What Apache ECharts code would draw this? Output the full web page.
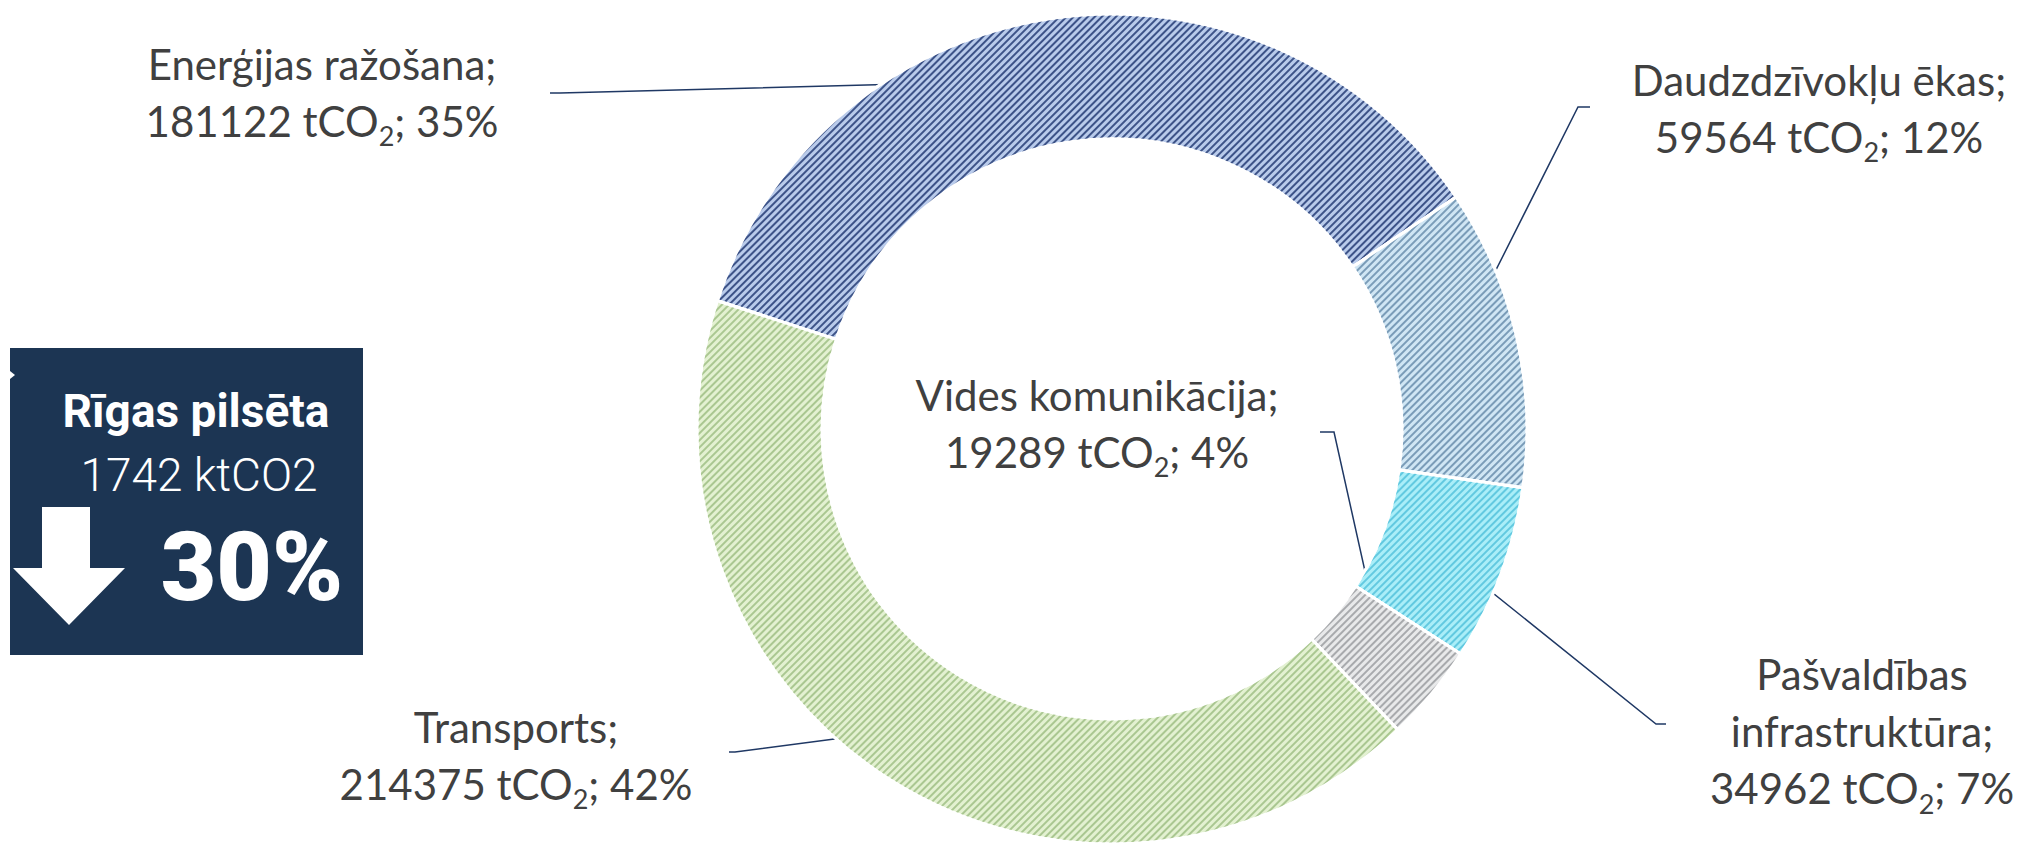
<!DOCTYPE html>
<html>
<head>
<meta charset="utf-8">
<script src="https://cdn.jsdelivr.net/npm/echarts@6/dist/echarts.min.js"></script>
<style>
html,body{margin:0;padding:0;background:#fff;}
#chart{width:2022px;height:843px;}
</style>
</head>
<body>
<div id="chart"></div>
<script>
// ---- data ----
const categories = ['Enerģijas ražošana;', 'Daudzdzīvokļu ēkas;', 'Pašvaldības\ninfrastruktūra;', 'Vides komunikācija;', 'Transports;'];
const values = [181122, 59564, 34962, 19289, 214375];
const percents = [35, 12, 7, 4, 42];
const unitMain = 'tCO';
const unitSub = '2';

// ---- styling ----
const baseColors   = ['#b9cbeb', '#d0e6f4', '#aaeef8', '#e8e9ea', '#e3f1d1'];
const stripeColors = ['#3d5388', '#7a9cb8', '#62c9e0', '#a8aaad', '#aac791'];

// label layout (positions of label block centres and leader-line bends)
const labelPos = [[322, 92], [1819, 108], [1862, 731], [1097, 423], [516, 755]];
const lineBend = [[560, 93], [1578, 107], [1656, 724], [1334, 432], [735, 752]];
const lineEnd  = [[550, 93], [1590, 107], [1666, 724], [1320, 432], [729, 752]];

const center = [1112, 429];
const rIn = 290, rOut = 415;
const startAngle = 162;

const total = values.reduce((a, b) => a + b, 0);
const midAngles = [];
let cum = 0;
values.forEach(v => { midAngles.push(startAngle - 360 * (cum + v / 2) / total); cum += v; });

const chart = echarts.init(document.getElementById('chart'), null, {renderer: 'svg'});

const data = categories.map((c, i) => ({
  name: c,
  value: values[i],
  itemStyle: {
    color: baseColors[i],
    decal: {
      symbol: 'rect', symbolSize: 1,
      dashArrayX: [1, 0], dashArrayY: [1.8, 2.6],
      rotation: -Math.PI / 4,
      color: stripeColors[i]
    }
  },
  label: {
    formatter: () => {
      const nameLines = c.split('\n').map(s => '{a|' + s + '}').join('\n');
      return nameLines + '\n{a|' + values[i] + ' ' + unitMain + '}{s|' + unitSub + '}{a|; ' + percents[i] + '%}';
    }
  }
}));

const labelFont = 'Lato, "Gill Sans", "Gill Sans MT", sans-serif';

chart.setOption({
  backgroundColor: '#ffffff',
  aria: {enabled: true, decal: {show: true}},
  graphic: [
    {type: 'rect', left: 10, top: 348, shape: {width: 353, height: 307}, style: {fill: '#1c3553'}},
    {type: 'polygon', shape: {points: [[10, 371], [15, 375], [10, 379]]}, style: {fill: '#ffffff'}},
    {type: 'polygon', shape: {points: [[42, 507], [90, 507], [90, 568], [125, 568], [69, 625], [13, 568], [42, 568]]}, style: {fill: '#ffffff'}},
    {type: 'text', x: 196, y: 411, style: {text: 'Rīgas pilsēta', fill: '#ffffff', font: 'bold 46px Roboto', align: 'center', verticalAlign: 'middle'}},
    {type: 'text', x: 199, y: 475, style: {text: '1742 ktCO2', fill: '#ffffff', font: '300 46px Roboto', align: 'center', verticalAlign: 'middle'}},
    {type: 'text', x: 252, y: 567, style: {text: '30%', fill: '#ffffff', font: '900 96px Roboto', align: 'center', verticalAlign: 'middle'}}
  ],
  series: [{
    type: 'pie',
    center: center,
    radius: [rIn, rOut],
    startAngle: startAngle,
    clockwise: true,
    avoidLabelOverlap: false,
    animation: false,
    itemStyle: {borderColor: '#ffffff', borderWidth: 3},
    label: {
      show: true,
      position: 'outside',
      color: '#404040',
      align: 'center',
      rich: {
        a: {fontFamily: labelFont, fontSize: 42, lineHeight: 57, color: '#404040'},
        s: {fontFamily: labelFont, fontSize: 27, lineHeight: 26, verticalAlign: 'bottom', color: '#404040'}
      }
    },
    labelLine: {show: true, lineStyle: {color: '#1f3864', width: 1.5}},
    labelLayout: function (params) {
      const i = params.dataIndex;
      const a = midAngles[i] * Math.PI / 180;
      const rm = (rIn + rOut) / 2;
      const p0 = [center[0] + rm * Math.cos(a), center[1] - rm * Math.sin(a)];
      return {
        x: labelPos[i][0], y: labelPos[i][1],
        align: 'center', verticalAlign: 'middle',
        labelLinePoints: [p0, lineBend[i].slice(), lineEnd[i].slice()]
      };
    },
    emphasis: {disabled: true},
    data: data
  }]
});
</script>
</body>
</html>
